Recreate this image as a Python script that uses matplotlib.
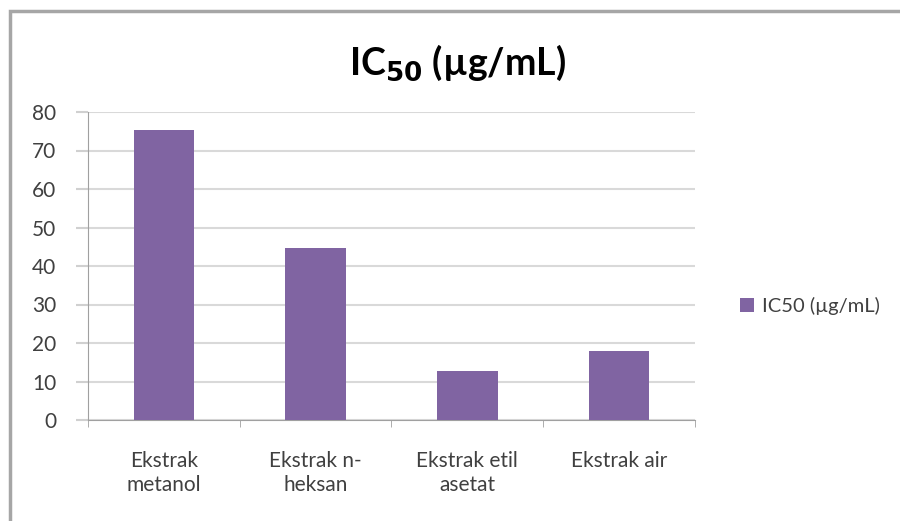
import matplotlib.pyplot as plt
from matplotlib.patches import Rectangle

# Data
categories = ["Ekstrak\nmetanol", "Ekstrak n-\nheksan", "Ekstrak etil\nasetat", "Ekstrak air"]
ic50 = [75.3, 44.7, 12.6, 18.0]
series_name = "IC50 (µg/mL)"

plt.rcParams["font.family"] = ["Lato", "DejaVu Sans"]

fig = plt.figure(figsize=(9, 5.21), dpi=100)
ax = fig.add_axes([88 / 900, 101 / 521, 607 / 900, 308 / 521])

# chart frame (top and left edge visible)
fig.patches.append(Rectangle((10 / 900, -0.1), 1.2, 1.1 - 11 / 521,
                             transform=fig.transFigure, fill=False,
                             edgecolor="#a6a6a6", linewidth=2.5))

x = range(len(categories))
ax.bar(x, ic50, width=0.4, color="#8064A2", label=series_name, zorder=3)

ax.set_xlim(-0.5, len(categories) - 0.5)
ax.set_ylim(0, 80)
ax.set_yticks(range(0, 81, 10))
ax.set_xticks(list(x))
ax.set_xticklabels(categories, fontsize=15, color="#404040", linespacing=1.3)
ax.set_xticks([i - 0.5 for i in range(len(categories) + 1)], minor=True)
ax.tick_params(axis="x", which="major", length=0, pad=22)
ax.tick_params(axis="x", which="minor", length=5, color="#a0a0a0", direction="out")
ax.tick_params(axis="y", length=9, color="#d0d0d0", width=1.5,
               labelsize=15, labelcolor="#404040", pad=14)

ax.grid(axis="y", color="#d9d9d9", linewidth=1.5, zorder=0)
for s in ["top", "right"]:
    ax.spines[s].set_visible(False)
ax.spines["left"].set_color("#a0a0a0")
ax.spines["bottom"].set_color("#a0a0a0")

fig.text(458 / 900, 1 - 63 / 521, r"IC$_{\mathbf{50}}$ (µg/mL)", ha="center", va="center",
         fontsize=27, fontweight="bold", color="black")

ax.legend(loc="center left", bbox_to_anchor=(1.045, 0.37), frameon=False,
          fontsize=14.5, handlelength=0.65, handleheight=0.65, handletextpad=0.4,
          labelcolor="#404040")

fig.savefig("out.png", dpi=100)
